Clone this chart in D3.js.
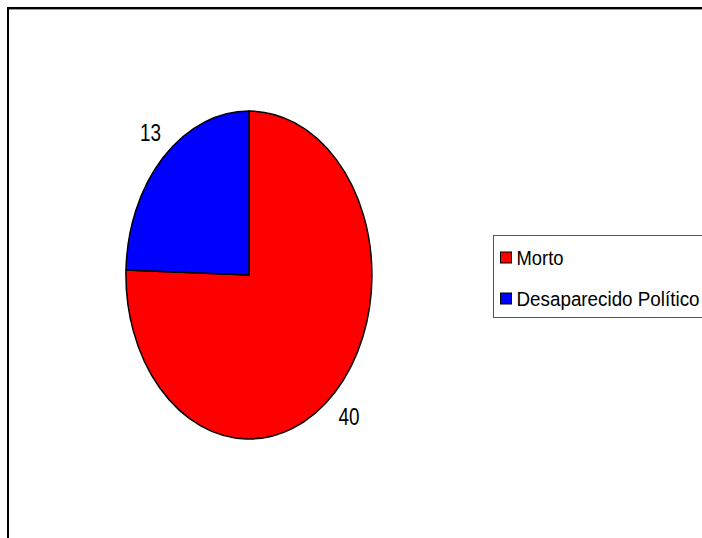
<!DOCTYPE html>
<html>
<head>
<meta charset="utf-8">
<script src="https://cdn.jsdelivr.net/npm/d3@7"></script>
<style>
  html, body { margin: 0; padding: 0; background: #fff; }
  text { font-family: "Liberation Sans", Arial, sans-serif; }
</style>
</head>
<body>
<div id="chart"></div>
<script>
const categories = ["Morto", "Desaparecido Político"];
const values = [40, 13];
const colors = ["#FF0000", "#0000FF"];
const legendWidths = [47, 183];   // condensed legend text

const width = 702, height = 538;
const cx = 249, cy = 275;   // pie centre
const rx = 123, ry = 164;   // pie is drawn as an ellipse

const svg = d3.select("#chart").append("svg")
  .attr("width", width)
  .attr("height", height);

// outer frame (runs off the right and bottom edges)
svg.append("rect")
  .attr("x", 8).attr("y", 8)
  .attr("width", width + 20).attr("height", height + 20)
  .attr("fill", "none")
  .attr("stroke", "#000")
  .attr("stroke-width", 2);
svg.append("line")
  .attr("x1", 9).attr("x2", width)
  .attr("y1", 9.5).attr("y2", 9.5)
  .attr("stroke", "#999").attr("stroke-width", 1);

const data = categories.map((c, i) => ({ name: c, value: values[i], color: colors[i], tw: legendWidths[i] }));

const pie = d3.pie().sort(null).value(d => d.value);
const arcs = pie(data);

// unit circle arcs, stretched into an ellipse
const arcGen = d3.arc().innerRadius(0).outerRadius(1);

const g = svg.append("g")
  .attr("transform", `translate(${cx},${cy}) scale(${rx},${ry})`);

g.selectAll("path")
  .data(arcs)
  .enter()
  .append("path")
  .attr("d", arcGen)
  .attr("fill", d => d.data.color)
  .attr("stroke", "#000")
  .attr("stroke-width", 1.5)
  .attr("vector-effect", "non-scaling-stroke");

// value labels outside the slices
const labelArc = d3.arc().innerRadius(1.17).outerRadius(1.17);
svg.append("g")
  .selectAll("text")
  .data(arcs)
  .enter()
  .append("text")
  .attr("x", d => cx + labelArc.centroid(d)[0] * rx * 0.99 + 0.8)
  .attr("y", d => cy + labelArc.centroid(d)[1] * ry * 1.03 + 8)
  .attr("text-anchor", "middle")
  .attr("font-size", 23)
  .attr("textLength", 21)
  .attr("lengthAdjust", "spacingAndGlyphs")
  .attr("fill", "#000")
  .text(d => d.data.value);

// legend
const legend = svg.append("g").attr("transform", "translate(493.5,235.5)");
legend.append("rect")
  .attr("width", 230).attr("height", 82)
  .attr("fill", "#fff")
  .attr("stroke", "#555")
  .attr("stroke-width", 1);

const rowY = d3.scalePoint().domain(categories).range([22, 63]);

const items = legend.selectAll("g.item")
  .data(data)
  .enter()
  .append("g")
  .attr("class", "item")
  .attr("transform", d => `translate(0,${rowY(d.name)})`);

items.append("rect")
  .attr("x", 7).attr("y", -5.5)
  .attr("width", 11).attr("height", 11)
  .attr("fill", d => d.color)
  .attr("stroke", "#000")
  .attr("stroke-width", 1);

items.append("text")
  .attr("x", 23).attr("y", 7)
  .attr("font-size", 19.5)
  .attr("textLength", d => d.tw)
  .attr("lengthAdjust", "spacingAndGlyphs")
  .attr("fill", "#000")
  .text(d => d.name);
</script>
</body>
</html>
